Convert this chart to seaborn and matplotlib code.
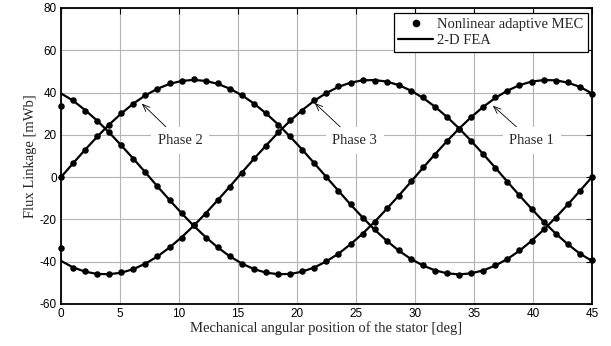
import matplotlib
matplotlib.use("Agg")
import matplotlib.pyplot as plt
import pandas as pd
import seaborn as sns
from matplotlib.lines import Line2D

# mechanical angle of the samples [deg]
angle = [0.00, 1.02, 2.05, 3.07, 4.09, 5.11, 6.14, 7.16, 8.18, 9.20, 10.23,
         11.25, 12.27, 13.30, 14.32, 15.34, 16.36, 17.39, 18.41, 19.43, 20.45,
         21.48, 22.50, 23.52, 24.55, 25.57, 26.59, 27.61, 28.64, 29.66, 30.68,
         31.70, 32.73, 33.75, 34.77, 35.80, 36.82, 37.84, 38.86, 39.89, 40.91,
         41.93, 42.95, 43.98, 45.00]

# 2-D FEA flux linkage [mWb]
fea_phase1 = [39.6, 36.2, 31.7, 26.7, 21.1, 15.0, 8.7, 2.2, -4.4, -10.8, -17.1,
              -23.0, -28.4, -33.3, -37.5, -40.9, -43.5, -45.2, -45.9, -45.8, -44.7,
              -42.7, -39.8, -36.2, -31.7, -26.7, -21.1, -15.0, -8.7, -2.2, 4.4,
              10.8, 17.1, 23.0, 28.4, 33.3, 37.5, 40.9, 43.5, 45.2, 45.9,
              45.8, 44.7, 42.7, 39.6]
fea_phase2 = [0.0, 6.5, 13.0, 19.1, 24.9, 30.1, 34.8, 38.7, 41.8, 44.1, 45.5,
              46.0, 45.5, 44.1, 41.8, 38.7, 34.8, 30.1, 24.9, 19.1, 13.0,
              6.5, 0.0, -6.5, -13.0, -19.1, -24.9, -30.1, -34.8, -38.7, -41.8,
              -44.1, -45.5, -46.0, -45.5, -44.1, -41.8, -38.7, -34.8, -30.1, -24.9,
              -19.1, -13.0, -6.5, 0.0]
fea_phase3 = [-39.6, -42.7, -44.7, -45.8, -45.9, -45.2, -43.5, -40.9, -37.5, -33.3, -28.4,
              -23.0, -17.1, -10.8, -4.4, 2.2, 8.7, 15.0, 21.1, 26.7, 31.7,
              36.2, 39.8, 42.7, 44.7, 45.8, 45.9, 45.2, 43.5, 40.9, 37.5,
              33.3, 28.4, 23.0, 17.1, 10.8, 4.4, -2.2, -8.7, -15.0, -21.1,
              -26.7, -31.7, -36.2, -39.6]

# nonlinear adaptive MEC flux linkage [mWb]
mec_phase1 = [33.6, 36.3, 31.5, 26.7, 21.4, 15.2, 8.5, 2.4, -4.2, -10.9, -17.0,
              -22.8, -28.6, -33.1, -37.4, -41.1, -43.3, -45.0, -45.7, -45.9, -44.5,
              -42.9, -39.6, -36.4, -31.5, -26.9, -21.3, -14.8, -8.9, -2.0, 4.6,
              10.6, 17.3, 22.8, 28.6, 33.1, 37.7, 40.7, 43.7, 45.0, 46.1,
              45.6, 44.9, 42.5, 39.4]
mec_phase2 = [0.0, 6.8, 12.8, 19.3, 24.7, 30.3, 34.6, 38.9, 41.6, 44.3, 45.3,
              46.2, 45.3, 44.3, 41.6, 38.9, 34.6, 30.3, 24.7, 19.3, 12.8,
              6.7, 0.2, -6.7, -12.8, -19.3, -24.7, -30.3, -34.6, -38.9, -41.6,
              -44.3, -45.3, -46.1, -45.3, -44.3, -41.6, -38.9, -34.6, -30.3, -24.7,
              -19.3, -12.8, -6.7, 0.0]
mec_phase3 = [-33.6, -42.9, -44.5, -45.9, -45.7, -45.0, -43.3, -41.1, -37.4, -33.1, -28.6,
              -22.8, -17.3, -10.6, -4.6, 2.0, 8.9, 14.8, 21.3, 26.9, 31.5,
              36.4, 39.6, 42.9, 44.5, 45.9, 45.7, 45.0, 43.7, 40.7, 37.7,
              33.1, 28.6, 22.8, 17.3, 10.9, 4.2, -2.4, -8.5, -15.2, -21.4,
              -26.7, -31.5, -36.3, -39.4]

phases = ["Phase 1", "Phase 2", "Phase 3"]
x_ticks = [0, 5, 10, 15, 20, 25, 30, 35, 40, 45]
y_ticks = [-60, -40, -20, 0, 20, 40, 60, 80]

df = pd.concat([
    pd.DataFrame({"angle": angle, "phase": name, "fea": fea, "mec": mec})
    for name, fea, mec in zip(phases,
                              [fea_phase1, fea_phase2, fea_phase3],
                              [mec_phase1, mec_phase2, mec_phase3])
], ignore_index=True)

sns.set_style("white")
plt.rcParams.update({
    "font.family": ["Liberation Serif", "DejaVu Serif"],
    "axes.edgecolor": "black",
    "axes.linewidth": 1.3,
    "axes.unicode_minus": False,
})

fig = plt.figure(figsize=(6.11, 3.46), dpi=100)
ax = fig.add_axes([0.0998, 0.1214, 0.869, 0.8555])

sns.lineplot(data=df, x="angle", y="fea", units="phase", estimator=None,
             color="black", lw=1.6, ax=ax, zorder=3)
sns.scatterplot(data=df, x="angle", y="mec", color="black", s=22,
                linewidth=0, ax=ax, zorder=4, clip_on=False)

ax.set_xlim(0, 45)
ax.set_ylim(-60, 80)
ax.set_xticks(x_ticks)
ax.set_yticks(y_ticks)
ax.grid(True, color="#b4b4b4", linewidth=0.8)
ax.set_axisbelow(True)
ax.tick_params(direction="in", length=4, width=0.8, top=True, right=True,
               labelsize=8.5, pad=3, colors="black")
for lab in ax.get_xticklabels() + ax.get_yticklabels():
    lab.set_family(["Liberation Sans", "DejaVu Sans"])
for side in ax.spines.values():
    side.set_visible(True)

ax.set_xlabel("Mechanical angular position of the stator [deg]", fontsize=10.5, labelpad=1)
ax.set_ylabel("Flux Linkage [mWb]", fontsize=10.5, labelpad=2)

# phase labels with arrows
for name, xy, xytext in [("Phase 2", (6.85, 34.8), (10.1, 17.3)),
                         ("Phase 3", (21.5, 35.1), (24.9, 17.3)),
                         ("Phase 1", (36.6, 33.8), (39.9, 17.3))]:
    ax.annotate(name, xy=xy, xytext=xytext, fontsize=10.5, ha="center", va="center",
                bbox=dict(boxstyle="square,pad=0.45", fc="white", ec="none"),
                arrowprops=dict(arrowstyle="->,head_length=0.5,head_width=0.2",
                                color="black", lw=0.6, shrinkA=0, shrinkB=0),
                zorder=2.5)

handles = [Line2D([], [], ls="none", marker="o", ms=4.5, color="black"),
           Line2D([], [], color="black", lw=1.6)]
leg = ax.legend(handles, ["Nonlinear adaptive MEC", "2-D FEA"],
                loc="upper right", bbox_to_anchor=(0.992, 0.983), borderaxespad=0,
                fontsize=10.5, frameon=True, fancybox=False, framealpha=1,
                edgecolor="black", handlelength=2.4, handletextpad=0.25,
                borderpad=0.3, labelspacing=0.25)
leg.get_frame().set_linewidth(0.9)
leg.set_zorder(5)

fig.savefig("out.png", dpi=100, facecolor="white")
